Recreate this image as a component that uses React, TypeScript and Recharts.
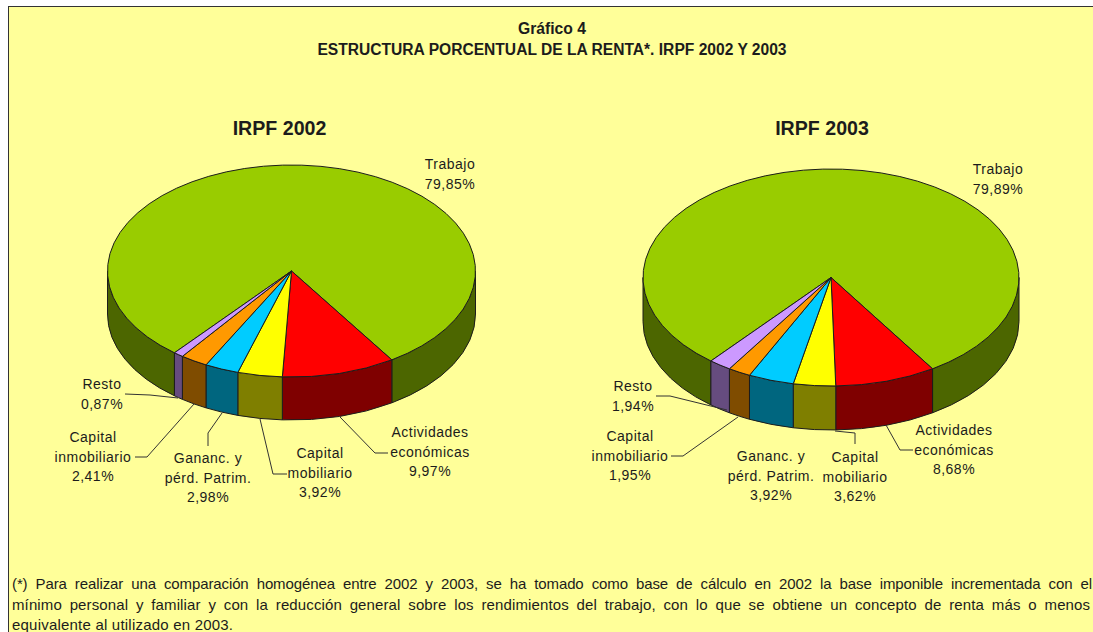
import { Pie, PieChart } from 'recharts';

const CATEGORIES = ['Trabajo', 'Actividades económicas', 'Capital mobiliario', 'Ganancias y pérd. Patrim.', 'Capital inmobiliario', 'Resto'];
const LABEL_LINES = [['Trabajo'], ['Actividades', 'económicas'], ['Capital', 'mobiliario'], ['Gananc. y', 'pérd. Patrim.'], ['Capital', 'inmobiliario'], ['Resto']];
const VALUES_2002 = [79.85, 9.97, 3.92, 2.98, 2.41, 0.87];
const VALUES_2003 = [79.89, 8.68, 3.62, 3.92, 1.95, 1.94];
const COLORS = ['#99cc00', '#ff0000', '#ffff00', '#00ccff', '#ff9900', '#cc99ff'];

const FOOTNOTE = [
  '(*) Para realizar una comparación homogénea entre 2002 y 2003, se ha tomado como base de cálculo en 2002 la base imponible incrementada con el',
  'mínimo personal y familiar y con la reducción general sobre los rendimientos del trabajo, con lo que se obtiene un concepto de renta más o menos',
  'equivalente al utilizado en 2003.',
];

// where each label sits: text centre x, first baseline y, then the leader line
const LAYOUT_2002 = [
  { x: 450, y: 169, line: null },
  { x: 430, y: 437, line: [[388, 453], [375, 453], [340, 417]] },
  { x: 320, y: 458, line: [[287, 474], [273, 474], [260, 419]] },
  { x: 208, y: 463, line: [[208, 446], [208, 433], [222, 413]] },
  { x: 93, y: 442, line: [[135, 457], [147, 457], [194, 404]] },
  { x: 102, y: 389, line: [[125, 394], [150, 395], [178, 398]] },
];
const LAYOUT_2003 = [
  { x: 998, y: 174, line: null },
  { x: 954, y: 435, line: [[913, 450], [900, 450], [886, 425]] },
  { x: 855, y: 462, line: [[835, 431], [855, 433], [855, 444]] },
  { x: 771, y: 461, line: null },
  { x: 630, y: 441, line: [[671, 456], [683, 456], [738, 417]] },
  { x: 633, y: 391, line: [[656, 396], [670, 396], [727, 410]] },
];

const FONT = '"Liberation Sans", Arial, sans-serif';
const INK = '#1c1c1c';

const tableFor = (values: number[]) =>
  CATEGORIES.map((name, i) => ({ name, value: values[i], fill: COLORS[i] }));

const darken = (hex: string) => {
  const half = (from: number) => Math.floor(parseInt(hex.slice(from, from + 2), 16) / 2);
  return `rgb(${half(1)},${half(3)},${half(5)})`;
};

const point = (cx: number, cy: number, rx: number, ry: number, deg: number) => {
  const rad = (deg * Math.PI) / 180;
  return [cx + rx * Math.cos(rad), cy + ry * Math.sin(rad)];
};

// the library's sectors are circles, these flatten them to the tilted ellipse
const topShape = (ry: number) => (props: any) => {
  const { cx, cy, outerRadius: rx, startAngle, endAngle, fill } = props;
  const a = -startAngle;
  const b = -endAngle;
  const [x0, y0] = point(cx, cy, rx, ry, a);
  const [x1, y1] = point(cx, cy, rx, ry, b);
  const d = `M${cx},${cy} L${x0},${y0} A${rx},${ry} 0 ${b - a > 180 ? 1 : 0} 1 ${x1},${y1} Z`;
  return <path d={d} fill={fill} stroke={INK} strokeWidth={1} strokeLinejoin="round" />;
};

const wallShape = (ry: number, depth: number) => (props: any) => {
  const { cx, cy, outerRadius: rx, startAngle, endAngle, fill } = props;
  const a = -startAngle;
  const b = -endAngle;
  // only the front half of the rim shows, going round it can come up twice
  const ranges = [-360, 0, 360]
    .map((turn) => [Math.max(a, turn), Math.min(b, turn + 180)])
    .filter(([from, to]) => to > from);
  return (
    <g>
      {ranges.map(([from, to]) => {
        const [x0, y0] = point(cx, cy, rx, ry, from);
        const [x1, y1] = point(cx, cy, rx, ry, to);
        const d = `M${x0},${y0} A${rx},${ry} 0 0 1 ${x1},${y1} L${x1},${y1 + depth} A${rx},${ry} 0 0 0 ${x0},${y0 + depth} Z`;
        return <path key={from} d={d} fill={darken(fill)} stroke={INK} strokeWidth={1} strokeLinejoin="round" />;
      })}
    </g>
  );
};

const sliceLabel = (layout: typeof LAYOUT_2002) => (props: any) => {
  const spot = layout[props.index];
  const lines = [...LABEL_LINES[props.index], `${props.value.toFixed(2).replace('.', ',')}%`];
  return (
    <text textAnchor="middle" fontSize={14} letterSpacing={0.5} fontFamily={FONT} fill={INK}>
      {lines.map((line, i) => (
        <tspan key={line} x={spot.x} y={spot.y + i * 19.7}>
          {line}
        </tspan>
      ))}
    </text>
  );
};

const leaderLine = (layout: typeof LAYOUT_2002) => (props: any) => {
  const spot = layout[props.index];
  if (!spot.line) return <g />;
  return <polyline points={spot.line.join(' ')} fill="none" stroke="#333" strokeWidth={1} />;
};

function YearPie({ values, layout, cx, cy, rx, ry, depth, start }: any) {
  const data = tableFor(values);
  return (
    <>
      <Pie
        data={data}
        dataKey="value"
        nameKey="name"
        cx={cx}
        cy={cy}
        outerRadius={rx}
        startAngle={start}
        endAngle={start - 360}
        shape={wallShape(ry, depth)}
        isAnimationActive={false}
        legendType="none"
      />
      <Pie
        data={data}
        dataKey="value"
        nameKey="name"
        cx={cx}
        cy={cy}
        outerRadius={rx}
        startAngle={start}
        endAngle={start - 360}
        shape={topShape(ry)}
        label={sliceLabel(layout)}
        labelLine={leaderLine(layout)}
        isAnimationActive={false}
        legendType="none"
      />
    </>
  );
}

export default function App() {
  return (
    <div style={{ position: 'absolute', left: 0, top: 0, width: 1093, height: 632, overflow: 'hidden', background: '#fff' }}>
      <div
        style={{
          position: 'absolute',
          left: 8,
          top: 6,
          width: 1100,
          height: 640,
          background: '#ffff99',
          borderLeft: '1px solid #333',
          borderTop: '1px solid #333',
        }}
      />
      <PieChart width={1093} height={632} margin={{ top: 0, right: 0, bottom: 0, left: 0 }} style={{ position: 'absolute', left: 0, top: 0 }}>
        {YearPie({ values: VALUES_2002, layout: LAYOUT_2002, cx: 291.5, cy: 271, rx: 184, ry: 106, depth: 43, start: -129.5 })}
        {YearPie({ values: VALUES_2003, layout: LAYOUT_2003, cx: 831, cy: 277.5, rx: 188, ry: 108.5, depth: 44, start: -129.7 })}
        <text x={552} y={34} textAnchor="middle" fontFamily={FONT} fontSize={15.7} fontWeight="bold" fill={INK}>
          Gráfico 4
        </text>
        <text x={552} y={55} textAnchor="middle" fontFamily={FONT} fontSize={15.6} fontWeight="bold" fill={INK}>
          ESTRUCTURA PORCENTUAL DE LA RENTA*. IRPF 2002 Y 2003
        </text>
        <text x={279.5} y={135} textAnchor="middle" fontFamily={FONT} fontSize={19.6} fontWeight="bold" fill={INK}>
          IRPF 2002
        </text>
        <text x={822} y={135} textAnchor="middle" fontFamily={FONT} fontSize={19.6} fontWeight="bold" fill={INK}>
          IRPF 2003
        </text>
        <text x={12} y={589} fontFamily={FONT} fontSize={15} wordSpacing={4} fill={INK} textLength={1080}>
          {FOOTNOTE[0]}
        </text>
        <text x={12} y={610} fontFamily={FONT} fontSize={15} wordSpacing={3.5} fill={INK} textLength={1078}>
          {FOOTNOTE[1]}
        </text>
        <text x={12} y={630} fontFamily={FONT} fontSize={15} fill={INK} textLength={221}>
          {FOOTNOTE[2]}
        </text>
      </PieChart>
    </div>
  );
}
